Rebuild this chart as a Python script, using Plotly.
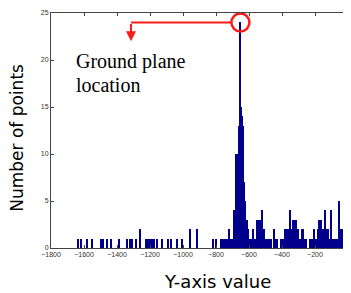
import plotly.graph_objects as go

# Histogram bins (centers, width 6) and counts
bin_centers = [
    -1634, -1620, -1580, -1552, -1499, -1483, -1463, -1436, -1389, -1339, -1321, -1307, -1285,
    -1261, -1224, -1212, -1200, -1190, -1176, -1160, -1130, -1089, -1075, -1036, -1008,
    -960, -917, -816, -800,
    -772, -766, -760, -754, -748, -742, -736, -730, -724, -718, -712, -706, -700,
    -694, -688, -682, -676, -670, -664, -658, -652, -646, -640, -634, -628, -622, -616,
    -610, -604, -598, -592, -586, -580, -574, -568, -562, -556, -550, -544, -538, -532,
    -526, -520, -514, -508, -502, -496, -490, -478, -472, -466, -448, -442, -436, -430,
    -406, -400, -394, -388, -382, -376, -370, -364, -358, -352, -346, -340, -334, -328,
    -322, -316, -310, -304, -298, -292, -286, -280, -274, -268, -262, -256, -232, -226,
    -220, -214, -208, -202, -196, -190, -184, -178, -172, -166, -160, -154, -148, -142,
    -136, -130, -124, -118, -112, -106, -100, -94, -88, -76, -70, -58, -52, -46, -40,
    -34, -28, -22, -10, -4,
]
counts = [
    1, 1, 1, 1, 1, 1, 1, 1, 1, 1, 1, 1, 1,
    2, 1, 1, 1, 1, 1, 1, 1, 1, 1, 1, 1,
    2, 2, 1, 1,
    1, 1, 1, 1, 1, 1, 1, 1, 2, 1, 1, 1, 1,
    1, 4, 3, 10, 7, 10, 13, 24, 15, 14, 13, 7, 5, 3,
    3, 2, 1, 1, 1, 1, 2, 1, 1, 1, 3, 3, 3, 3,
    3, 4, 2, 2, 1, 1, 1, 1, 1, 1, 2, 1, 1, 1,
    1, 1, 1, 1, 2, 1, 2, 2, 1, 4, 1, 2, 3, 2,
    3, 3, 2, 2, 1, 1, 1, 2, 2, 1, 1, 1, 1, 1,
    1, 1, 2, 1, 1, 1, 2, 3, 2, 3, 2, 1, 2, 4,
    2, 1, 2, 1, 1, 4, 3, 1, 1, 1, 1, 1, 5, 1, 2,
    2, 1, 1, 1, 4,
]
bin_width = 6

x_ticks = list(range(-1800, 1, 200))
y_ticks = [0, 5, 10, 15, 20, 25]

peak_i = counts.index(max(counts))
peak_x = bin_centers[peak_i]
peak_y = counts[peak_i]

fig = go.Figure()
fig.add_trace(go.Bar(
    x=bin_centers, y=counts, width=[bin_width] * len(bin_centers),
    marker=dict(color="#00008c", line=dict(width=0)),
    showlegend=False,
))

tick_font = dict(family="Arial, Liberation Sans", size=7, color="#333333")
axis_common = dict(
    showgrid=False, zeroline=False, showline=True, linecolor="#444444", linewidth=1,
    mirror="ticks", ticks="inside", ticklen=3, tickcolor="#444444",
    tickfont=tick_font, ticklabeloverflow="allow",
)
# the page body adds an 8px offset, so the figure is sized/margined to compensate
fig.update_layout(
    width=343, height=285,
    margin=dict(l=43, r=3, t=1, b=45),
    paper_bgcolor="white", plot_bgcolor="white",
    bargap=0,
    xaxis=dict(range=[-1800, 0], tickvals=x_ticks[:-1], **axis_common),
    yaxis=dict(range=[0, 25], tickvals=y_ticks, **axis_common),
)
# last x tick label (at the right edge of the axis) drawn as a text label
fig.add_annotation(text=str(x_ticks[-1]), xref="paper", yref="paper", x=1.0, y=0,
                   showarrow=False, font=tick_font, xanchor="right", yanchor="top",
                   yshift=-2, xshift=1)

serif = dict(family="Liberation Serif, Times New Roman", size=20, color="black")
fig.add_annotation(text="Y-axis value", xref="paper", yref="paper", x=0.559, y=-0.142,
                   showarrow=False,
                   font=dict(family="DejaVu Sans, Verdana", size=18, color="black"),
                   xanchor="center", yanchor="middle")
fig.add_annotation(text="Number of points", xref="paper", yref="paper", x=-0.1145, y=0.469,
                   showarrow=False,
                   font=dict(family="DejaVu Sans, Verdana", size=17, color="black"),
                   textangle=-90, xanchor="center", yanchor="middle")
fig.add_annotation(text="Ground plane", xref="paper", yref="paper", x=0.077, y=0.795,
                   showarrow=False, font=serif, xanchor="left", yanchor="middle")
fig.add_annotation(text="location", xref="paper", yref="paper", x=0.077, y=0.695,
                   showarrow=False, font=serif, xanchor="left", yanchor="middle")

# red pointer: circle around peak, horizontal line, arrow down
arrow_x = -1315
fig.add_shape(type="circle", xref="x", yref="y", xsizemode="pixel", ysizemode="pixel",
              xanchor=peak_x, yanchor=peak_y, x0=-9, x1=9, y0=-9, y1=9,
              line=dict(color="#ff1a1a", width=2.5))
fig.add_shape(type="line", xref="x", yref="y", x0=arrow_x, x1=peak_x - 57, y0=24.0, y1=24.0,
              line=dict(color="#ff1a1a", width=2))
fig.add_annotation(x=arrow_x, y=22.0, ax=arrow_x, ay=24.0, xref="x", yref="y",
                   axref="x", ayref="y", showarrow=True, arrowhead=2, arrowsize=1,
                   arrowwidth=2, arrowcolor="#ff1a1a", text="")

fig.write_html("out.html")
